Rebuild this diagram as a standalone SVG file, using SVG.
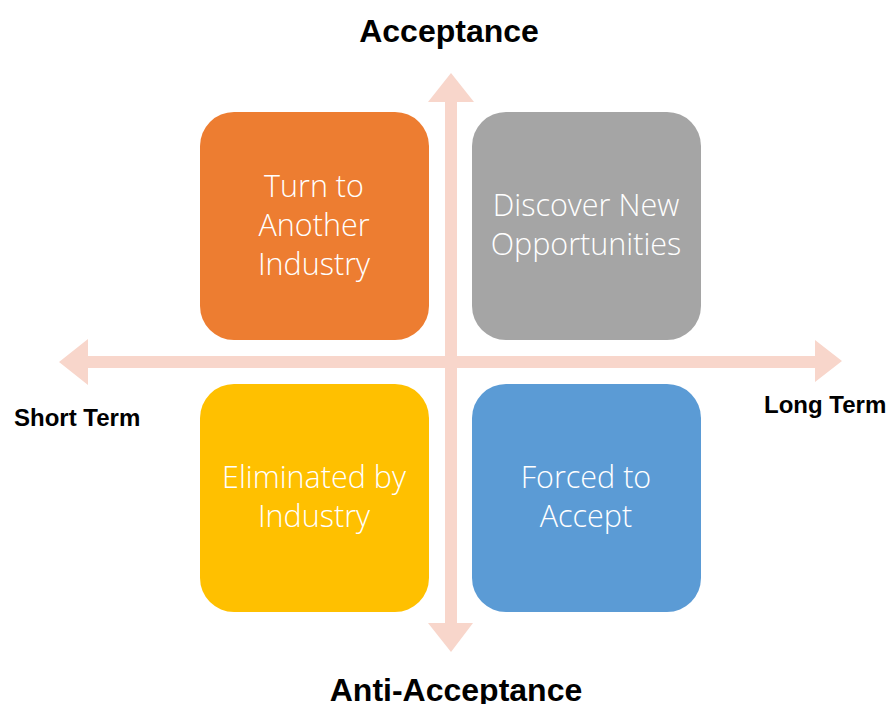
<svg xmlns="http://www.w3.org/2000/svg" width="890" height="704" viewBox="0 0 890 704">
<style>
.box text{font-family:"Open Sans","Noto Sans","Liberation Sans",sans-serif;font-weight:300;font-size:30.5px;fill:#ffffff;text-anchor:middle}
.axis{font-family:"Liberation Sans",Arial,sans-serif;font-weight:bold;fill:#000000}
.arrow{fill:#F8D6CB}
</style>
<rect width="890" height="704" fill="#ffffff"/>
<g id="axes">
<polygon class="arrow" points="445,102 428,102 451,73 474,102 457,102 457,623 473,623 451,652 428,623 445,623"/>
<polygon class="arrow" points="88,356 88,339 59,362 88,385 88,368 815,368 815,382 842,361 815,340 815,356"/>
</g>
<g id="turn" class="box">
<rect x="200" y="112" width="229" height="228" rx="34" fill="#ED7D31"/>
<text x="314" y="197">Turn to</text>
<text x="314" y="236">Another</text>
<text x="314" y="275">Industry</text>
</g>
<g id="discover" class="box">
<rect x="472" y="112" width="229" height="228" rx="34" fill="#A5A5A5"/>
<text x="586" y="216">Discover New</text>
<text x="586" y="255">Opportunities</text>
</g>
<g id="eliminated" class="box">
<rect x="200" y="384" width="229" height="228" rx="34" fill="#FFC000"/>
<text x="314" y="488">Eliminated by</text>
<text x="314" y="527">Industry</text>
</g>
<g id="forced" class="box">
<rect x="472" y="384" width="229" height="228" rx="34" fill="#5B9BD5"/>
<text x="586" y="488">Forced to</text>
<text x="586" y="527">Accept</text>
</g>
<g id="labels">
<text class="axis" x="449" y="42" font-size="32" text-anchor="middle">Acceptance</text>
<text class="axis" x="456" y="701" font-size="32" text-anchor="middle">Anti-Acceptance</text>
<text class="axis" x="14" y="426" font-size="24">Short Term</text>
<text class="axis" x="764" y="413" font-size="24">Long Term</text>
</g>
</svg>
